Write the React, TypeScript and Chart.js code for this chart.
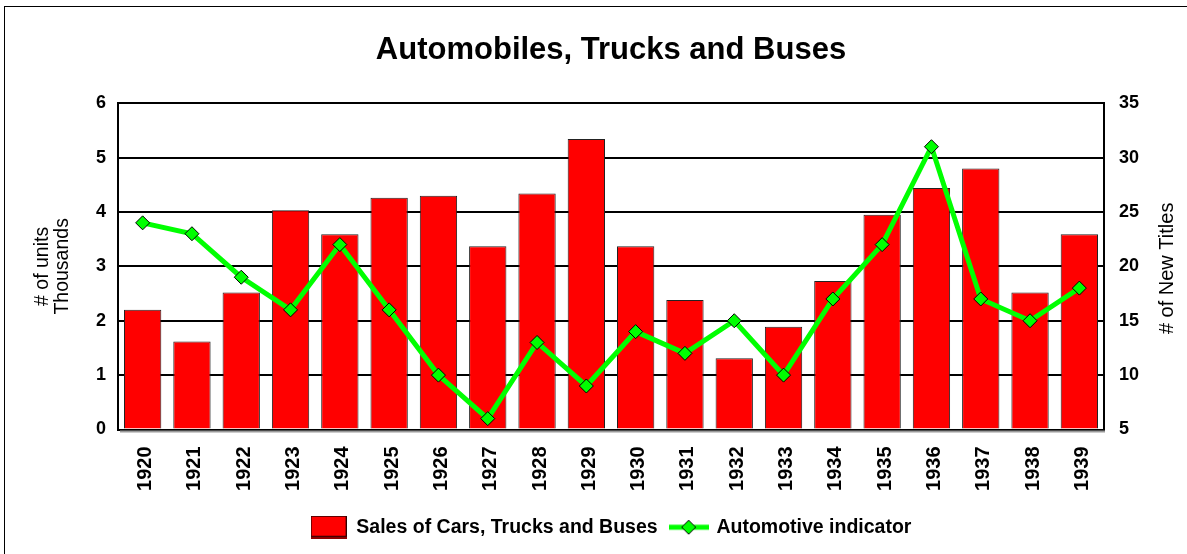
import React, { useEffect, useRef } from 'react';
import { Chart, registerables } from 'chart.js';

Chart.register(...registerables);

const years = ['1920', '1921', '1922', '1923', '1924', '1925', '1926', '1927', '1928', '1929', '1930', '1931', '1932', '1933', '1934', '1935', '1936', '1937', '1938', '1939'];
const sales = [2.2, 1.62, 2.52, 4.03, 3.59, 4.26, 4.3, 3.37, 4.34, 5.34, 3.37, 2.38, 1.31, 1.89, 2.73, 3.95, 4.44, 4.8, 2.52, 3.59];
const indicator = [24, 23, 19, 16, 22, 16, 10, 6, 13, 9, 14, 12, 15, 10, 17, 22, 31, 17, 15, 18];
const leftAxis = { min: 0, max: 6, step: 1 };
const rightAxis = { min: 5, max: 35, step: 5 };

const TITLE = 'Automobiles, Trucks and Buses';
const LEFT_TITLE = ['# of units', 'Thousands'];
const RIGHT_TITLE = '# of New Titles';
const SERIES_BAR = 'Sales of Cars, Trucks and Buses';
const SERIES_LINE = 'Automotive indicator';

const FONT = "'Liberation Sans', Arial, Helvetica, sans-serif";
const RED = '#FF0000';
const GREEN = '#00FF00';

function makeBarSwatch(): HTMLCanvasElement {
  const c = document.createElement('canvas');
  c.width = 36;
  c.height = 23;
  const g = c.getContext('2d')!;
  g.fillStyle = RED;
  g.fillRect(0, 0, 36, 21);
  g.strokeStyle = '#300000';
  g.lineWidth = 1;
  g.strokeRect(0.5, 0.5, 35, 20);
  g.fillStyle = '#8B0000';
  g.fillRect(0, 21, 36, 2);
  return c;
}

function makeLineSwatch(): HTMLCanvasElement {
  const c = document.createElement('canvas');
  c.width = 40;
  c.height = 18;
  const g = c.getContext('2d')!;
  g.strokeStyle = GREEN;
  g.lineWidth = 5;
  g.beginPath();
  g.moveTo(0, 9);
  g.lineTo(40, 9);
  g.stroke();
  g.beginPath();
  g.moveTo(20, 2);
  g.lineTo(27, 9);
  g.lineTo(20, 16);
  g.lineTo(13, 9);
  g.closePath();
  g.fillStyle = GREEN;
  g.fill();
  g.strokeStyle = '#000';
  g.lineWidth = 1;
  g.stroke();
  return c;
}

const framePlugin = {
  id: 'frame',
  beforeDraw(chart: any) {
    const { ctx, width, height } = chart;
    ctx.save();
    ctx.fillStyle = '#fff';
    ctx.fillRect(0, 0, width, height);
    ctx.strokeStyle = '#000';
    ctx.lineWidth = 1;
    ctx.strokeRect(4.5, 6.5, width + 50, height + 50);
    ctx.restore();
  },
  afterDraw(chart: any) {
    const { ctx, chartArea } = chart;
    ctx.save();
    // soft shadow under the bottom axis
    ctx.strokeStyle = '#9a9a9a';
    ctx.lineWidth = 2;
    ctx.beginPath();
    ctx.moveTo(chartArea.left + 2, chartArea.bottom + 2);
    ctx.lineTo(chartArea.right + 1, chartArea.bottom + 2);
    ctx.stroke();
    // right axis title, reading bottom to top
    ctx.translate(chartArea.right + 63, (chartArea.top + chartArea.bottom) / 2 + 2);
    ctx.rotate(-Math.PI / 2);
    ctx.fillStyle = '#000';
    ctx.font = `20px ${FONT}`;
    ctx.textAlign = 'center';
    ctx.textBaseline = 'middle';
    ctx.fillText(RIGHT_TITLE, 0, 0);
    ctx.restore();
  },
};

export default function App() {
  const ref = useRef<HTMLCanvasElement | null>(null);

  useEffect(() => {
    if (!ref.current) return;
    const barSwatch = makeBarSwatch();
    const lineSwatch = makeLineSwatch();
    const chart = new Chart(ref.current, {
      type: 'bar',
      data: {
        labels: years,
        datasets: [
          {
            type: 'bar',
            label: SERIES_BAR,
            data: sales,
            backgroundColor: RED,
            borderColor: '#222',
            borderWidth: 1,
            barPercentage: 0.757,
            categoryPercentage: 1,
            yAxisID: 'y',
            order: 1,
          },
          {
            type: 'line',
            label: SERIES_LINE,
            data: indicator,
            borderColor: GREEN,
            borderWidth: 5,
            backgroundColor: GREEN,
            pointStyle: 'rectRot',
            pointRadius: 7,
            pointBackgroundColor: GREEN,
            pointBorderColor: '#000',
            pointBorderWidth: 1,
            tension: 0,
            fill: false,
            yAxisID: 'y1',
            order: 0,
          } as any,
        ],
      },
      options: {
        responsive: false,
        animation: false,
        layout: { padding: { left: 0, right: 0, top: 0, bottom: 7 } },
        plugins: {
          tooltip: { enabled: false },
          title: {
            display: true,
            fullSize: false,
            text: TITLE,
            color: '#000',
            font: { family: FONT, size: 31, weight: 'bold', lineHeight: 1.2 },
            padding: { top: 32, bottom: 34 },
          },
          legend: {
            display: true,
            position: 'bottom',
            fullSize: false,
            labels: {
              usePointStyle: true,
              pointStyleWidth: 36,
              boxHeight: 22,
              padding: 13,
              color: '#000',
              font: { family: FONT, size: 19.5, weight: 'bold' },
              generateLabels: () => [
                { text: SERIES_BAR, pointStyle: barSwatch as any, fillStyle: RED, strokeStyle: RED, lineWidth: 0, hidden: false, datasetIndex: 0, fontColor: '#000' },
                { text: SERIES_LINE, pointStyle: lineSwatch as any, fillStyle: GREEN, strokeStyle: GREEN, lineWidth: 0, hidden: false, datasetIndex: 1, fontColor: '#000' },
              ],
            },
          },
        },
        scales: {
          x: {
            grid: { display: false, drawTicks: false },
            border: { display: true, color: '#000', width: 2 },
            ticks: {
              autoSkip: false,
              minRotation: 90,
              maxRotation: 90,
              padding: 17,
              labelOffset: 3,
              color: '#000',
              font: { family: FONT, size: 20, weight: 'bold' },
            },
            afterFit: (s: any) => { s.height = 75; },
          },
          y: {
            position: 'left',
            min: leftAxis.min,
            max: leftAxis.max,
            ticks: {
              stepSize: leftAxis.step,
              padding: 12,
              color: '#000',
              font: { family: FONT, size: 18, weight: 'bold' },
            },
            grid: { color: '#000', lineWidth: 2, drawTicks: false },
            border: { display: true, color: '#000', width: 2 },
            title: {
              display: true,
              text: LEFT_TITLE,
              color: '#000',
              font: { family: FONT, size: 19.5, lineHeight: 1 },
              padding: { top: 33, bottom: 0 },
            },
            afterFit: (s: any) => { s.width = 118; },
          },
          y1: {
            position: 'right',
            min: rightAxis.min,
            max: rightAxis.max,
            ticks: {
              stepSize: rightAxis.step,
              padding: 15,
              color: '#000',
              font: { family: FONT, size: 18, weight: 'bold' },
            },
            grid: { display: false, drawTicks: false },
            border: { display: true, color: '#000', width: 2 },
            afterFit: (s: any) => { s.width = 83; },
          },
        },
      },
      plugins: [framePlugin],
    } as any);
    return () => chart.destroy();
  }, []);

  return (
    <div style={{ position: 'fixed', left: 0, top: 0, width: 1187, height: 554, background: '#fff' }}>
      <canvas ref={ref} width={1187} height={554} style={{ display: 'block' }} />
    </div>
  );
}
